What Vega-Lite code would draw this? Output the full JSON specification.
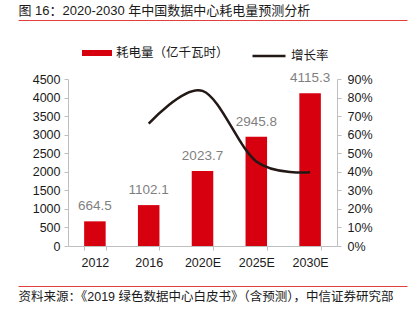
{
  "$schema": "https://vega.github.io/schema/vega-lite/v6.json",
  "width": 269,
  "height": 167,
  "autosize": {"type": "none"},
  "padding": {"left": 68, "top": 79, "right": 77, "bottom": 77},
  "background": "white",
  "config": {
    "view": {"stroke": null},
    "font": "Liberation Sans, Noto Sans CJK SC",
    "axis": {"labelFont": "Liberation Sans", "labelColor": "#1a1a1a", "labelFontSize": 12.5, "domainColor": "#bfbfbf", "tickColor": "#bfbfbf", "grid": false, "title": null},
    "legend": {"labelFont": "Noto Sans CJK SC", "labelFontSize": 12.5, "labelColor": "#1a1a1a", "title": null, "padding": 0}
  },
  "data": {
    "values": [
      {"year": "2012", "power": 664.5, "rate": null},
      {"year": "2016", "power": 1102.1, "rate": 0.659},
      {"year": "2020E", "power": 2023.7, "rate": 0.836},
      {"year": "2025E", "power": 2945.8, "rate": 0.456},
      {"year": "2030E", "power": 4115.3, "rate": 0.397}
    ]
  },
  "layer": [
    {
      "encoding": {
        "x": {"field": "year", "type": "nominal", "sort": null, "scale": {"paddingInner": 0.6, "paddingOuter": 0.3}}
      },
      "layer": [
        {
          "mark": {"type": "bar"},
          "encoding": {
            "x": {"field": "year", "type": "nominal", "sort": null, "axis": {"labelAngle": 0, "tickBand": "extent", "tickSize": 4, "labelPadding": 6}},
            "y": {"field": "power", "type": "quantitative", "scale": {"domain": [0, 4500]}, "axis": {"orient": "left", "values": [0, 500, 1000, 1500, 2000, 2500, 3000, 3500, 4000, 4500], "tickSize": 4, "labelPadding": 4, "format": "d"}},
            "fill": {"datum": "耗电量（亿千瓦时）", "scale": {"range": ["#d7000f"]}, "legend": {"orient": "none", "legendX": 14, "legendY": -41, "symbolType": "M-1,-0.2H1V0.2H-1Z", "symbolSize": 900, "symbolStrokeWidth": 0, "labelOffset": 4}}
          }
        },
        {
          "mark": {"type": "text", "baseline": "alphabetic", "dy": -11, "fontSize": 13.5, "color": "#7f7f7f", "font": "Liberation Sans"},
          "encoding": {
            "y": {"field": "power", "type": "quantitative", "scale": {"domain": [0, 4500]}, "axis": null},
            "text": {"field": "power", "type": "quantitative", "format": ".1f"}
          }
        },
        {
          "mark": {"type": "line", "interpolate": "cardinal", "strokeWidth": 2.5},
          "encoding": {
            "y": {"field": "rate", "type": "quantitative", "scale": {"domain": [0, 0.9]}, "axis": {"orient": "right", "values": [0, 0.1, 0.2, 0.3, 0.4, 0.5, 0.6, 0.7, 0.8, 0.9], "format": ".0%", "tickSize": 4, "labelPadding": 6}},
            "stroke": {"datum": "增长率", "scale": {"range": ["#231815"]}, "legend": {"orient": "none", "legendX": 183, "legendY": -41, "symbolType": "stroke", "symbolSize": 1089, "symbolStrokeWidth": 2.5, "labelOffset": 4}}
          }
        }
      ],
      "resolve": {"scale": {"y": "independent", "fill": "independent", "stroke": "independent"}}
    },
    {
      "mark": {"type": "rule", "opacity": 0},
      "encoding": {
        "x": {"datum": 0, "type": "quantitative", "scale": {"domain": [0, 1], "range": [-50, 339]}, "axis": {"orient": "top", "offset": 59, "domainColor": "#e2403f", "domainWidth": 1, "ticks": false, "labels": false, "grid": false, "title": "图 16：2020-2030 年中国数据中心耗电量预测分析", "titleAnchor": "start", "titleAlign": "left", "titlePadding": 3, "titleFontSize": 13, "titleFontWeight": "normal", "titleColor": "#1a1a1a", "titleFont": "Liberation Sans, Noto Sans CJK SC"}},
        "x2": {"datum": 1}
      }
    },
    {
      "mark": {"type": "rule", "opacity": 0},
      "encoding": {
        "x": {"datum": 0, "type": "quantitative", "scale": {"domain": [0, 1], "range": [-50, 339]}, "axis": {"orient": "bottom", "offset": 40, "domainColor": "#e2403f", "domainWidth": 1, "ticks": false, "labels": false, "grid": false, "title": "资料来源：《2019 绿色数据中心白皮书》（含预测），中信证券研究部", "titleAnchor": "start", "titleAlign": "left", "titlePadding": 4, "titleFontSize": 12.5, "titleFontWeight": "normal", "titleColor": "#1a1a1a", "titleFont": "Liberation Sans, Noto Sans CJK SC"}},
        "x2": {"datum": 1}
      }
    }
  ],
  "resolve": {"scale": {"x": "independent", "y": "independent"}}
}
